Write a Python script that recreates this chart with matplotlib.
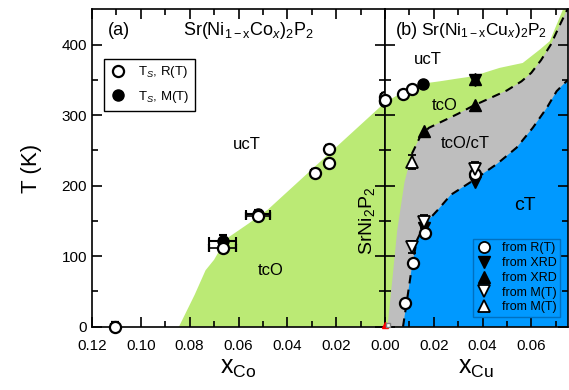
import matplotlib.pyplot as plt
from matplotlib.lines import Line2D

plt.rcParams['font.family'] = ['Liberation Sans', 'DejaVu Sans']
plt.rcParams['mathtext.fontset'] = 'custom'
plt.rcParams['mathtext.rm'] = 'Liberation Sans'
plt.rcParams['mathtext.it'] = 'Liberation Sans:italic'

green = '#bbea75'
gray = '#bebebe'
blue = '#0099ff'

# --- panel (a): Sr(Ni1-xCox)2P2 ---
co_open_x = [0.1106, 0.0664, 0.052, 0.0287, 0.023, 0.023, 0.0, 0.0]
co_open_T = [0, 112, 157, 218, 232, 252, 320, 326]
co_open_xerr = [0.0015, 0.0055, 0.005, 0.0015, 0.0012, 0.0012, 0.0015, 0.0015]
co_open_yerr = [6, 6, 6, 5, 5, 5, 5, 5]
co_fill_x = [0.0664, 0.052]
co_fill_T = [122, 160]
co_fill_xerr = [0.0055, 0.005]
co_fill_yerr = [8, 6]

# tcO region boundary (x, T)
co_tco_x = [0.0844, 0.078, 0.0735, 0.070, 0.0675, 0.064, 0.056, 0.048, 0.0, 0.0]
co_tco_T = [0, 45, 80, 95, 110, 127, 146, 166, 318, 0]

# --- panel (b): Sr(Ni1-xCux)2P2 ---
cu_R_x = [0.0, 0.0074, 0.011, 0.0082, 0.0115, 0.0164, 0.037]
cu_R_T = [322, 330, 337, 33, 91, 133, 217]
cu_Mfill_x = [0.0156]
cu_Mfill_T = [344]
xrd_down_x = [0.037, 0.037, 0.016]
xrd_down_T = [350, 205, 140]
xrd_up_x = [0.037, 0.037, 0.016]
xrd_up_T = [351, 315, 278]
mt_down_x = [0.016, 0.011, 0.037]
mt_down_T = [149, 113, 224]
mt_up_x = [0.011]
mt_up_T = [233]

# ucT / tcO boundary
uct_x = [0.0, 0.005, 0.010, 0.016, 0.0225, 0.030, 0.036, 0.047, 0.0565, 0.0635, 0.0676, 0.073]
uct_T = [318, 328, 337, 345, 348, 352, 355, 367, 374, 393, 405, 450]
# tcO / (tcO/cT) boundary
tco_x = [0.001, 0.003, 0.005, 0.008, 0.011, 0.0145, 0.018, 0.024, 0.030, 0.036, 0.043,
         0.050, 0.056, 0.060, 0.064, 0.068, 0.072, 0.0748]
tco_T = [0, 66, 136, 205, 245, 270, 282, 292, 302, 313, 324,
         335, 348, 360, 378, 400, 430, 450]
# (tcO/cT) / cT boundary
ct_x = [0.0074, 0.009, 0.011, 0.013, 0.0164, 0.0215, 0.027, 0.036, 0.046, 0.054,
        0.0606, 0.0663, 0.0704, 0.075]
ct_T = [0, 37, 84, 122, 146, 165, 187, 207, 231, 254, 282, 310, 334, 350]

fig = plt.figure(figsize=(5.69, 3.9), dpi=100)
ax1 = fig.add_axes([0.1617, 0.1623, 0.515, 0.8137])
ax2 = fig.add_axes([0.6766, 0.1623, 0.3214, 0.8137])

for ax in (ax1, ax2):
    ax.set_ylim(0, 450)
    ax.tick_params(which='both', direction='in', top=True, right=True, left=True,
                   width=1.2, labelsize=11)
    ax.tick_params(which='major', length=7)
    ax.tick_params(which='minor', length=4)
    ax.tick_params(axis='x', which='both', pad=9)
    for s in ax.spines.values():
        s.set_linewidth(1.2)

# panel a
ax1.fill(co_tco_x, co_tco_T, color=green, lw=0, zorder=0)
ax1.set_xlim(0.12, 0.0)
ax1.set_xticks([0.12, 0.10, 0.08, 0.06, 0.04, 0.02, 0.00])
ax1.set_xticklabels(['0.12', '0.10', '0.08', '0.06', '0.04', '0.02', '0.00'])
ax1.set_xticks([0.11, 0.09, 0.07, 0.05, 0.03, 0.01], minor=True)
ax1.set_yticks([0, 100, 200, 300, 400])
ax1.set_yticks([50, 150, 250, 350], minor=True)
ax1.errorbar(co_fill_x, co_fill_T, xerr=co_fill_xerr, yerr=co_fill_yerr, fmt='o',
             mfc='black', mec='black', ms=8, ecolor='black', elinewidth=1.5,
             capsize=3, capthick=1.5, zorder=3, clip_on=False)
ax1.errorbar(co_open_x, co_open_T, xerr=co_open_xerr, yerr=co_open_yerr, fmt='o',
             mfc='white', mec='black', mew=1.6, ms=8, ecolor='black', elinewidth=1.2,
             capsize=3, capthick=1.5, zorder=4, clip_on=False)
ax1.set_ylabel('T (K)', fontsize=16, labelpad=14)
ax1.set_xlabel('x$_{\\mathrm{Co}}$', fontsize=18, labelpad=2)
ax1.text(0.1134, 420, '(a)', fontsize=13, ha='left', va='center')
ax1.text(0.056, 420, 'Sr(Ni$_{\\mathrm{1-x}}$Co$_x$)$_2$P$_2$', fontsize=13,
         ha='center', va='center')
ax1.text(0.0565, 258, 'ucT', fontsize=12, ha='center', va='center')
ax1.text(0.0467, 80, 'tcO', fontsize=12, ha='center', va='center')
h1 = [Line2D([], [], ls='', marker='o', mfc='white', mec='black', mew=1.6, ms=8),
      Line2D([], [], ls='', marker='o', mfc='black', mec='black', ms=8)]
ax1.legend(h1, ['T$_S$, R(T)', 'T$_S$, M(T)'], loc='upper left',
           bbox_to_anchor=(0.041, 0.845), fontsize=9.5, frameon=True, fancybox=False,
           edgecolor='black', framealpha=1, handletextpad=0.9, borderpad=0.45,
           labelspacing=0.65, handlelength=1.2, borderaxespad=0)

# panel b
ax2.fill(uct_x + [0.075, 0.075, 0.0], uct_T + [450, 0, 0], color=green, lw=0, zorder=0)
ax2.fill(tco_x + [0.075, 0.075], tco_T + [450, 0], color=gray, lw=0, zorder=1)
ax2.fill(ct_x + [0.075], ct_T + [0], color=blue, lw=0, zorder=1)
ax2.plot(tco_x[4:], tco_T[4:], ls=(0, (4, 3)), color='black', lw=1.5, zorder=2)
ax2.plot(ct_x, ct_T, ls=(0, (4, 3)), color='black', lw=1.5, zorder=2)
ax2.set_xlim(0.0, 0.075)
ax2.set_xticks([0.00, 0.02, 0.04, 0.06])
ax2.set_xticklabels(['', '0.02', '0.04', '0.06'])
ax2.set_xticks([0.01, 0.03, 0.05, 0.07], minor=True)
ax2.set_yticks([0, 100, 200, 300, 400])
ax2.set_yticks([50, 150, 250, 350], minor=True)
ax2.set_yticklabels([])
ax2.plot([0.0], [3], marker='^', color='red', ms=4, ls='', clip_on=False, zorder=5)
ax2.plot([0.0012], [2], marker='s', mfc='white', mec='gray', ms=3, ls='', clip_on=False, zorder=5)
ax2.plot(xrd_down_x, xrd_down_T, marker='v', color='black', ms=8, ls='', zorder=3)
ax2.plot(xrd_up_x, xrd_up_T, marker='^', color='black', ms=8, ls='', zorder=3)
ax2.plot(cu_Mfill_x, cu_Mfill_T, marker='o', color='black', ms=8, ls='', zorder=3)
ax2.errorbar(cu_R_x, cu_R_T, xerr=0.0013, yerr=6, fmt='o', mfc='white', mec='black',
             mew=1.6, ms=8, ecolor='black', elinewidth=1.2, capsize=0, zorder=4,
             clip_on=False)
ax2.errorbar(mt_down_x, mt_down_T, yerr=9, fmt='v', mfc='white', mec='black',
             mew=1.3, ms=8, ecolor='black', elinewidth=1, capsize=3, zorder=4)
ax2.errorbar(mt_up_x, mt_up_T, yerr=10, fmt='^', mfc='white', mec='black',
             mew=1.3, ms=8, ecolor='black', elinewidth=1, capsize=3, zorder=4)
ax2.set_xlabel('x$_{\\mathrm{Cu}}$', fontsize=18, labelpad=2)
ax2.text(0.0045, 420, '(b)', fontsize=13, ha='left', va='center')
ax2.text(0.0405, 420, 'Sr(Ni$_{\\mathrm{1-x}}$Cu$_x$)$_2$P$_2$', fontsize=12.5,
         ha='center', va='center')
ax2.text(0.0175, 379, 'ucT', fontsize=12, ha='center', va='center')
ax2.text(0.0245, 314, 'tcO', fontsize=12, ha='center', va='center')
ax2.text(0.033, 260, 'tcO/cT', fontsize=12, ha='center', va='center')
ax2.text(0.0573, 172, 'cT', fontsize=14, ha='center', va='center')
ax2.text(-0.0072, 150, 'SrNi$_2$P$_2$', fontsize=14, rotation=90, ha='center',
         va='center', zorder=5)
h2 = [Line2D([], [], ls='', marker='o', mfc='white', mec='black', mew=1.3, ms=8),
      Line2D([], [], ls='', marker='v', color='black', ms=8),
      Line2D([], [], ls='', marker='^', color='black', ms=8),
      Line2D([], [], ls='', marker='v', mfc='white', mec='black', mew=1.3, ms=8),
      Line2D([], [], ls='', marker='^', mfc='white', mec='black', mew=1.3, ms=8)]
leg = ax2.legend(h2, ['from R(T)', 'from XRD', 'from XRD', 'from M(T)', 'from M(T)'],
                 loc='lower right', bbox_to_anchor=(0.958, 0.03), fontsize=9,
                 frameon=True, fancybox=False, facecolor=blue, edgecolor='#0070c0',
                 framealpha=1, handletextpad=0.8, borderpad=0.3, labelspacing=0.22,
                 handlelength=1.2, borderaxespad=0)

fig.savefig('out.png', dpi=100)
